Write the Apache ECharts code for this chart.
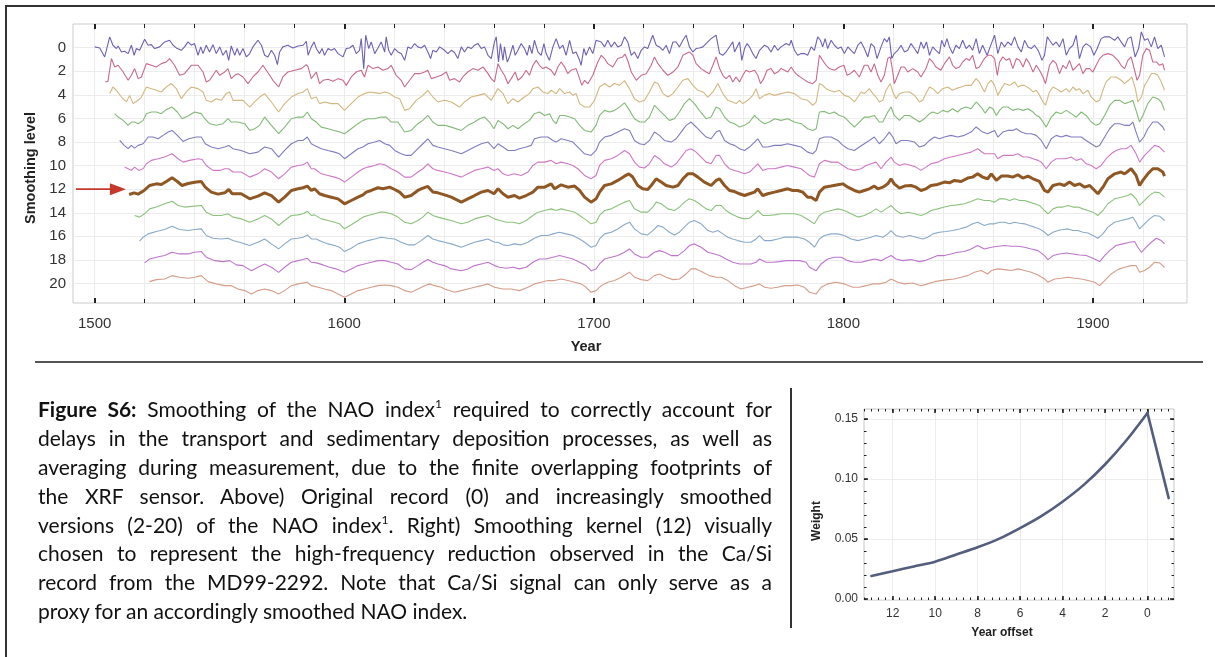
<!DOCTYPE html>
<html>
<head>
<meta charset="utf-8">
<script src="https://cdn.jsdelivr.net/npm/echarts@6/dist/echarts.min.js"></script>
<style>
  html, body { margin: 0; padding: 0; background: #fff; }
  #page { position: relative; width: 1215px; height: 657px; overflow: hidden; background: #fff; }
  #frame { position: absolute; left: 5px; top: 5px; width: 1300px; height: 800px; border: 2px solid #333; box-sizing: border-box; }
  #chart { position: absolute; left: 0; top: 0; width: 1215px; height: 657px; }
  #rule { position: absolute; left: 35px; top: 361px; width: 1168px; height: 0; border-top: 2px solid #555; }
  #vrule { position: absolute; left: 790px; top: 388px; width: 0; height: 240px; border-left: 2px solid #333; }
  #caption { position: absolute; left: 38px; top: 395px; width: 734px; color: #111;
             font-family: Lato, 'Open Sans', 'Liberation Sans', sans-serif;
             font-size: 21px; z-index: 2; }
  #caption div { height: 28.9px; line-height: 28.9px; text-align: justify; text-align-last: justify; white-space: nowrap; }
  #caption div.last { text-align-last: left; }
  #caption sup { font-size: 12px; line-height: 0; vertical-align: 9px; }
</style>
</head>
<body>
<div id="page">
  <div id="frame"></div>
  <div id="rule"></div>
  <div id="vrule"></div>
  <div id="chart"></div>
  <div id="caption">
    <div><b>Figure S6:</b> Smoothing of the NAO index<sup>1</sup> required to correctly account for</div>
    <div>delays in the transport and sedimentary deposition processes, as well as</div>
    <div>averaging during measurement, due to the finite overlapping footprints of</div>
    <div>the XRF sensor. Above) Original record (0) and increasingly smoothed</div>
    <div>versions (2-20) of the NAO index<sup>1</sup>. Right) Smoothing kernel (12) visually</div>
    <div>chosen to represent the high-frequency reduction observed in the Ca/Si</div>
    <div>record from the MD99-2292. Note that Ca/Si signal can only serve as a</div>
    <div class="last">proxy for an accordingly smoothed NAO index.</div>
  </div>
</div>
<script>
// Smoothing levels (row positions) and tick labels
const levels = [0, 2, 4, 6, 8, 10, 12, 14, 16, 18, 20];
const yearTicks = [1500, 1600, 1700, 1800, 1900];
const offsetTicks = [12, 10, 8, 6, 4, 2, 0];
const weightTicks = [0, 0.05, 0.10, 0.15];

// Smoothing kernel (level 12): weight per year offset
const kernelOffsets = [13, 12, 11, 10, 9, 8, 7, 6, 5, 4, 3, 2, 1, 0, -1];
const kernelWeights = [0.019, 0.023, 0.027, 0.031, 0.037, 0.043, 0.050, 0.059, 0.069, 0.081, 0.095, 0.112, 0.132, 0.155, 0.084];

// NAO anomaly per smoothing level: [year, anomaly] (positive = upward)
const lvl0 = [[1500,0.06],[1502,-0.03],[1504,-0.79],[1506,0.91],[1507.3,0.2],[1508.7,-0.08],[1509.4,0.14],[1510.7,-0.37],[1512,-0.31],[1513.4,-0.51],[1514.7,0.2],[1515.8,-0.65],[1516.7,-0.08],[1518,-0.23],[1520,0.71],[1521.4,0.2],[1522.7,0.25],[1524,-0.08],[1526,0.06],[1528,0.48],[1530,0.62],[1531.4,0.2],[1532.7,-0.03],[1534.7,-0.23],[1536,0.06],[1537.4,0.48],[1538.7,0.2],[1540,0.34],[1541.4,-0.65],[1542.5,0.06],[1543.4,-0.51],[1544.7,0.2],[1546,-0.37],[1547.4,0.25],[1548.7,-0.51],[1550.1,0.06],[1551.4,-0.65],[1552.7,-0.23],[1553.7,-1.08],[1554.7,0.14],[1556.1,-0.65],[1557.1,-0.08],[1558.1,-0.65],[1559.4,-0.08],[1560.8,-0.79],[1562.1,-0.51],[1563.4,0.06],[1565.4,0.62],[1566.8,0.2],[1568.1,-0.65],[1569.4,-0.79],[1570.8,-0.23],[1572.1,-0.65],[1573.2,-1.44],[1574.1,-0.37],[1575.4,0.06],[1577.4,0.2],[1579.4,-0.03],[1581.5,0.14],[1583.5,0.2],[1584.8,0.54],[1585.5,-0.65],[1586.8,0.06],[1587.9,0.48],[1588.8,-0.08],[1590.1,-0.51],[1591.1,-0.08],[1592.1,-0.65],[1593.5,-0.08],[1594.8,-0.23],[1596.1,-0.08],[1597.5,-0.51],[1599.5,-0.79],[1600.8,-0.08],[1602.1,-0.03],[1603.5,0.2],[1604.8,-0.51],[1606.1,-0.23],[1606.8,0.76],[1607.8,-1.78],[1608.6,1.05],[1609.8,-0.08],[1610.8,0.48],[1612.2,-0.51],[1613.5,-0.03],[1614.8,0.48],[1616.2,-0.37],[1616.8,0.91],[1617.8,-0.23],[1618.8,-0.65],[1620.2,-0.08],[1621.5,-0.37],[1622.8,-0.51],[1624.2,-1.08],[1625.5,0.06],[1626.8,-0.08],[1628.2,0.34],[1629.5,0.06],[1630.8,-0.03],[1632.2,0.2],[1633.5,-0.37],[1634.6,-0.93],[1635.5,-0.23],[1636.9,-0.37],[1638.2,0.06],[1640.2,-0.23],[1641.5,-0.51],[1642.9,-0.23],[1644.2,-0.42],[1645.5,-0.93],[1646.9,0.06],[1648.2,-0.37],[1649.5,0.06],[1650.9,-0.08],[1652.2,0.2],[1653.6,0.34],[1654.9,-0.08],[1656.2,0.06],[1657.6,-0.65],[1658.9,-0.93],[1660.2,0.48],[1660.9,0.91],[1661.8,-1.22],[1662.6,0.34],[1663.6,-1.08],[1664.2,0.06],[1665.3,-1.22],[1666.2,-0.79],[1667.6,0.2],[1668.5,-0.65],[1669.6,-0.23],[1670.9,0.34],[1672.2,-0.08],[1673.3,-0.65],[1674.2,0.2],[1675.2,-0.51],[1676.2,0.62],[1677.6,-0.37],[1678.9,-0.65],[1680,0.34],[1680.9,-0.51],[1682.2,-1.08],[1683.6,0.06],[1684.9,0.76],[1686.3,-0.08],[1687.6,0.2],[1688.9,-0.65],[1690.3,0.62],[1691.6,-0.51],[1692.9,-0.37],[1694.3,-1.08],[1694.9,-1.5],[1696,-0.08],[1696.9,-0.65],[1698.3,0.06],[1699.6,-0.51],[1700.9,0.62],[1703,0.48],[1704.3,0.06],[1705.6,0.62],[1707,0.06],[1708.3,0.48],[1709.6,0.06],[1711,0.2],[1712.3,0.91],[1713.6,0.48],[1715,-0.65],[1716.3,-0.37],[1717.6,-0.93],[1719,-0.23],[1720.3,0.06],[1721.6,-0.08],[1723.6,1.05],[1725,0.2],[1726.3,0.06],[1727.7,-0.23],[1729,0.2],[1730.3,-0.51],[1731.7,0.48],[1733,0.48],[1734.3,0.06],[1735.7,0.62],[1737,1.05],[1738.3,0.06],[1739.7,-0.37],[1741,-0.08],[1742.3,-0.03],[1743.7,0.06],[1745,0.34],[1747,0.76],[1749,1.05],[1750.4,-0.51],[1751.7,-0.65],[1753,-0.37],[1754.8,0.2],[1755.7,0.48],[1756.4,-0.37],[1757.4,0.06],[1758.4,0.48],[1759.3,-1.08],[1760.4,-0.08],[1761.4,0.34],[1762.4,0.06],[1763.7,-0.51],[1765,-0.93],[1766.4,-0.23],[1768.4,0.2],[1769.7,0.06],[1771,-0.37],[1772.4,0.2],[1773.7,-0.23],[1775,0.06],[1777.1,0.34],[1778.4,0.2],[1779.1,0.62],[1780.4,-0.23],[1781.7,-0.65],[1783.1,-0.51],[1784.4,-0.51],[1785.7,-0.65],[1787.1,0.06],[1788.4,-0.23],[1789.7,0.91],[1790.8,0.62],[1791.7,0.06],[1792.7,0.76],[1793.7,-0.08],[1795.1,0.62],[1796.4,0.2],[1797.8,-0.08],[1799.1,0.06],[1800.4,-0.51],[1801.8,0.06],[1803.1,-0.23],[1804.4,-0.51],[1805.8,0.2],[1807.1,0.48],[1808.4,-0.08],[1809.8,-0.79],[1811.1,0.34],[1812.4,0.06],[1813.5,-0.93],[1815.1,0.06],[1816.4,0.76],[1817.5,0.48],[1818.4,0.91],[1819.4,-0.93],[1820.4,-0.51],[1821.8,-0.23],[1823.1,0.2],[1824.5,-0.37],[1825.8,-0.23],[1827.1,0.34],[1828.5,-0.08],[1829.8,-0.51],[1831.1,0.48],[1832.2,-0.08],[1833.3,0.48],[1834.5,-0.65],[1835.8,0.06],[1837.1,-0.23],[1838.5,-0.51],[1839.4,0.62],[1840.5,0.06],[1841.5,0.76],[1842.5,0.06],[1843.8,-0.51],[1845.1,0.2],[1846.5,-0.08],[1847.8,0.62],[1849.2,-0.08],[1850.5,0.2],[1851.8,-0.23],[1853.2,0.76],[1854.5,-0.51],[1855.8,0.2],[1857.6,-0.65],[1859.3,0.34],[1860.6,1.05],[1861.9,-0.51],[1863.3,0.48],[1864.6,0.06],[1865.9,0.48],[1867.3,0.2],[1868.6,0.91],[1870,0.06],[1871.3,-0.37],[1872.6,0.62],[1874,0.06],[1875.3,-0.08],[1876.6,0.2],[1878,-0.23],[1878.6,-0.51],[1879.6,-1.08],[1880.6,-0.65],[1881.7,0.91],[1882.6,0.62],[1884,0.2],[1885.3,0.48],[1886.6,0.06],[1888,0.76],[1889.3,-0.65],[1890.6,-0.08],[1892,0.2],[1893.3,1.05],[1894.6,-0.93],[1896,0.06],[1897.3,0.34],[1899.1,0.06],[1900.4,-0.65],[1901.7,-0.08],[1903.3,0.76],[1904.7,0.91],[1906.7,0.91],[1908.7,0.62],[1910,0.91],[1911.3,0.48],[1912.7,0.06],[1914,0.76],[1915.3,0.91],[1916.9,-0.79],[1918.3,-0.08],[1919.4,1.33],[1920.7,0.62],[1922,0.76],[1923.4,0.06],[1924.7,0.91],[1926,-0.08],[1927.4,0.2],[1928.7,-0.79]];

const lvl2 = [[1504.3,-0.91],[1505.3,-0.86],[1506.7,1.07],[1508,0.36],[1509.4,0.5],[1511.4,-0.07],[1513.4,-0.77],[1514.7,-0.35],[1516,0.22],[1517.4,-0.63],[1518.7,-0.49],[1520.7,0.64],[1522.7,0.5],[1524.7,0.36],[1526.7,0.64],[1528.7,0.78],[1530,1.07],[1532,0.5],[1534,-0.35],[1536,-0.21],[1538.7,0.5],[1541.4,0.5],[1543.4,-0.07],[1544.7,-0.91],[1546,-0.77],[1547.4,-0.35],[1548.7,0.08],[1550.1,-0.35],[1552.1,-0.07],[1553.4,0.22],[1554.7,-0.63],[1556.1,-0.35],[1557.4,-0.21],[1559.4,-0.49],[1561.4,-1.06],[1563.4,-0.49],[1565.4,-0.07],[1567.4,0.5],[1570.1,-0.35],[1571.4,-0.77],[1573.7,-1.34],[1575.4,-0.49],[1577.4,-0.07],[1580.1,0.08],[1582.8,0.22],[1584.8,0.56],[1585.5,0.36],[1586.8,-0.63],[1588.8,-0.07],[1590.1,-1.06],[1591.5,-0.77],[1593.5,-0.69],[1595.5,-0.86],[1597.5,-0.63],[1599.5,-0.77],[1600.8,-1.2],[1602.8,-0.49],[1604.8,-0.07],[1606.8,0.08],[1608.1,-0.49],[1609.5,0.5],[1611.5,0.22],[1613.5,0.36],[1615.5,0.08],[1617.5,0.22],[1618.8,0.5],[1620.8,-0.35],[1622.8,-0.77],[1624.2,-1.34],[1626.2,-0.77],[1628.2,-0.21],[1630.2,-0.21],[1632.2,-0.07],[1633.5,0.08],[1634.9,-0.63],[1636.9,-0.49],[1638.9,-0.35],[1640.9,-0.07],[1642.2,-0.77],[1644.2,-0.63],[1646.2,-0.91],[1647.5,-0.49],[1649.5,-0.07],[1651.5,0.22],[1653.6,0.08],[1655.6,0.36],[1657.6,-0.21],[1658.9,-0.63],[1660.2,-0.91],[1661.6,0.64],[1662.9,0.08],[1664.2,-0.35],[1665.6,-1.06],[1666.9,-0.63],[1668.5,-0.07],[1669.6,-0.77],[1671.2,-0.49],[1672.9,0.08],[1674.2,-0.35],[1675.6,0.5],[1676.9,0.92],[1678.2,0.5],[1679.6,0.22],[1680.9,0.36],[1682.9,0.08],[1684.3,-0.35],[1685.6,0.36],[1686.9,0.78],[1688.3,0.36],[1689.6,-0.21],[1690.9,0.08],[1692.9,0.22],[1694.3,-0.63],[1695.2,-1.2],[1696.3,-0.77],[1697.6,-1.06],[1699.6,-0.35],[1701.6,0.78],[1703,1.35],[1704.3,1.07],[1705.6,0.64],[1707.6,0.36],[1709.6,1.07],[1711.6,1.21],[1712.5,1.45],[1713.8,0.78],[1715,-0.07],[1717,-0.77],[1719,-0.35],[1721,-0.21],[1723,0.5],[1724.3,1.21],[1725.7,0.64],[1727.7,0.08],[1729.7,-0.35],[1731.7,-0.07],[1733.7,0.36],[1735.7,1.35],[1737,1.49],[1738.3,1.63],[1739.7,1.35],[1741,0.64],[1743,0.22],[1745,-0.07],[1746.3,-0.21],[1747.7,0.5],[1749,1.21],[1750.4,0.22],[1751.7,-0.35],[1753,-0.63],[1754.4,-0.35],[1755.7,-0.91],[1757,-0.49],[1758.4,-0.91],[1759.7,-0.35],[1761,0.08],[1762.4,-0.07],[1764.4,0.08],[1765.7,-0.35],[1766.8,-1.06],[1768.1,-0.63],[1769.4,0.08],[1771,0.22],[1772.4,-0.21],[1773.7,-0.07],[1775,0.22],[1776.4,0.08],[1777.7,-0.07],[1779.1,0.36],[1780.4,-0.07],[1781.7,-0.35],[1783.7,-0.63],[1785.7,-0.91],[1787.7,-1.06],[1789.1,-0.77],[1790.4,1.35],[1791.7,0.92],[1793.1,0.5],[1794.4,0.22],[1796.4,0.08],[1798.4,0.36],[1800.2,0.5],[1801.5,-0.35],[1802.8,-0.21],[1804.4,0.08],[1806.4,-0.49],[1808.4,0.5],[1809.8,0.5],[1811.1,-0.07],[1812.4,0.64],[1813.8,-0.35],[1815.1,-0.91],[1816.4,-0.35],[1817.8,1.07],[1818.8,1.21],[1819.8,-0.07],[1820.4,-1.06],[1821.8,-0.35],[1823.1,0.36],[1824.5,0.36],[1825.8,-0.07],[1827.8,0.22],[1829.8,-0.07],[1831.1,-0.49],[1833.1,0.22],[1834.5,1.07],[1835.8,0.78],[1837.1,0.36],[1839.1,0.08],[1840.5,0.64],[1842.5,1.21],[1843.8,0.5],[1845.1,0.22],[1846.5,0.36],[1847.8,0.78],[1849.2,1.07],[1850.5,0.92],[1851.8,1.35],[1853.2,0.22],[1854.5,0.36],[1856.5,1.07],[1857.8,1.35],[1859.3,1.35],[1860.6,1.07],[1861.7,-0.35],[1862.6,0.78],[1863.9,1.21],[1865.3,0.92],[1866.6,1.07],[1867.9,0.22],[1869.3,1.07],[1870.6,0.92],[1872,0.36],[1873.3,1.07],[1874.6,0.64],[1876,-0.07],[1877.3,0.5],[1878.6,0.08],[1880,-0.49],[1881,-1.06],[1882.6,0.5],[1884,0.92],[1885.3,0.64],[1886.6,-0.21],[1888,0.5],[1889.3,0.22],[1890.6,0.92],[1892,0.08],[1893.3,0.36],[1894.6,0.64],[1896,-0.21],[1897.3,0.22],[1898.7,0.22],[1900,-0.07],[1901.3,0.5],[1902.7,1.07],[1904,1.35],[1906,1.49],[1908,1.35],[1910,0.92],[1911.3,0.5],[1912.7,0.22],[1914,0.92],[1915.3,1.21],[1916.7,0.08],[1917.7,-0.77],[1918.7,-0.35],[1920,1.35],[1921.4,1.92],[1922.7,1.77],[1924,0.78],[1925.4,0.78],[1926.7,0.5],[1928,0.64],[1928.7,0.08]];

const lvl4 = [[1506,0.1],[1507.3,0.66],[1508.7,0.38],[1510.7,-0.19],[1512.7,-0.61],[1514,-0.05],[1515.4,-0.75],[1517.4,-0.47],[1518.7,-0.19],[1520.7,0.66],[1522.7,0.52],[1524.7,0.38],[1526.7,0.24],[1528.7,0.66],[1530.7,0.95],[1532.7,0.52],[1534.7,-0.33],[1536.7,0.24],[1538.7,0.66],[1541.4,0.52],[1543.4,0.24],[1544.7,-0.47],[1546.7,-0.61],[1548.7,-0.33],[1550.7,-0.47],[1552.7,0.1],[1554.1,0.24],[1555.4,-0.47],[1557.4,-0.47],[1559.4,-0.47],[1562.1,-1.04],[1564.1,-0.61],[1566.1,-0.19],[1568.1,0.1],[1570.8,-0.61],[1573.7,-1.46],[1576.1,-0.75],[1578.8,-0.19],[1581.5,0.1],[1583.5,0.24],[1585.2,0.52],[1586.8,-0.33],[1588.8,-0.19],[1590.1,-0.75],[1592.1,-0.61],[1594.8,-0.75],[1597.5,-0.75],[1600.1,-1.32],[1602.8,-0.75],[1605.5,-0.19],[1608.1,0.1],[1610.2,0.24],[1612.2,0.18],[1614.2,0.1],[1616.2,0.24],[1618.2,0.1],[1620.2,-0.19],[1622.2,-0.33],[1624.2,-1.32],[1626.2,-1.18],[1628.8,-0.47],[1631.5,-0.05],[1633.5,0.38],[1635.5,-0.19],[1637.5,-0.61],[1640.2,-0.47],[1642.9,-0.61],[1646.2,-1.04],[1648.2,-0.61],[1650.9,-0.19],[1653.6,-0.05],[1656.2,0.1],[1658.9,-0.47],[1661.6,0.52],[1663.6,0.1],[1665.6,-0.75],[1667.6,-0.33],[1669.6,-0.61],[1672.2,-0.19],[1674.2,0.1],[1675.6,0.52],[1677.6,0.66],[1679.6,0.24],[1681.6,0.1],[1682.9,0.38],[1684.9,0.1],[1686.3,0.52],[1688.3,0.1],[1690.3,0.24],[1691.6,-0.05],[1692.9,0.1],[1694.3,-0.75],[1696.3,-1.04],[1698.3,-1.04],[1700.3,-0.47],[1702.3,0.66],[1704.3,0.95],[1706.3,0.66],[1708.3,0.95],[1710.3,0.8],[1712.3,1.2],[1714.3,0.52],[1716.3,-0.33],[1718.3,-0.61],[1720.3,-0.47],[1722.3,0.24],[1724.3,1.09],[1725.7,0.95],[1727.7,0.1],[1729.7,-0.19],[1731.7,0.1],[1733.7,0.66],[1735.7,1.23],[1737.7,1.37],[1739.7,0.8],[1741.7,0.38],[1743.7,0.24],[1745.7,-0.19],[1747.7,0.24],[1749.7,0.95],[1751.7,0.1],[1753.7,-0.47],[1755.7,-0.61],[1757,-0.75],[1758.4,-0.47],[1759.7,-0.75],[1761.7,-0.47],[1763.7,-0.05],[1765,0.52],[1766.4,-0.33],[1768.4,-0.05],[1770.4,0.1],[1772.4,-0.05],[1775,0.1],[1777.7,0.24],[1780.4,0.1],[1783.1,-0.33],[1785.7,-0.47],[1787.7,-0.89],[1789.1,-0.61],[1790.4,0.95],[1791.7,0.8],[1793.1,0.52],[1794.4,0.38],[1796.4,0.24],[1798.4,0.38],[1800.4,-0.05],[1802.4,-0.19],[1804.4,-0.61],[1805.8,-0.19],[1807.1,0.24],[1808.4,0.1],[1810.4,0.52],[1811.8,0.1],[1813.1,-0.19],[1814.4,-0.61],[1815.8,-0.47],[1817.1,0.38],[1818.8,0.95],[1819.8,0.24],[1821.1,-0.33],[1822.5,0.1],[1824.5,0.24],[1826.5,0.24],[1828.5,-0.05],[1830.5,-0.61],[1831.8,-0.47],[1833.1,0.1],[1834.5,0.66],[1835.8,0.52],[1837.8,0.1],[1839.8,0.52],[1841.8,0.66],[1843.8,0.38],[1845.1,0.52],[1847.2,0.66],[1849.2,0.8],[1851.2,0.8],[1853.2,1.37],[1854.5,1.09],[1855.8,0.52],[1856.6,0.24],[1857.9,0.95],[1859.3,1.23],[1860.6,0.8],[1861.9,-0.05],[1863.3,0.52],[1864.6,0.95],[1866.6,0.8],[1868.6,1.09],[1870,0.66],[1871.3,0.8],[1872.6,0.8],[1874.6,0.52],[1876,0.24],[1877.3,0.38],[1878.6,-0.05],[1880,-0.61],[1881,-0.89],[1882.6,0.24],[1884,0.66],[1885.3,0.52],[1887.3,0.24],[1889.3,0.52],[1890.6,0.24],[1892,0.66],[1893.3,0.38],[1894.6,0.52],[1896,0.1],[1898,0.38],[1899.3,-0.19],[1901.3,-0.61],[1902.7,-0.47],[1904,0.38],[1905.3,1.09],[1907.3,1.51],[1909.3,1.51],[1911.3,1.23],[1912.7,0.95],[1914.3,1.23],[1915.6,1.51],[1917,0.52],[1918,-0.61],[1919.4,-0.19],[1920.7,0.8],[1922,1.23],[1923.4,1.8],[1924.7,1.8],[1926,1.65],[1927.4,1.09],[1928.7,0.38]];

const lvl6 = [[1508,0.4],[1509.4,0.11],[1511.4,-0.17],[1513.4,-0.59],[1514.7,-0.31],[1516,-0.31],[1517.4,-0.45],[1519.4,-0.17],[1520.7,0.4],[1522.7,0.54],[1524.7,0.54],[1526.7,0.4],[1528.7,0.76],[1531,0.96],[1533.1,0.54],[1535,-0.03],[1537.4,0.2],[1540,0.54],[1542.7,0.4],[1544.1,-0.03],[1546,-0.45],[1548.7,-0.59],[1551.4,-0.45],[1553.4,-0.03],[1554.7,-0.31],[1557.4,-0.31],[1560.1,-0.45],[1562.1,-1.02],[1564.1,-0.88],[1566.1,-0.59],[1568.1,0.11],[1570.8,-0.59],[1573.7,-1.3],[1576.1,-0.74],[1578.8,-0.03],[1581.5,0.11],[1583.5,0.11],[1585.2,0.54],[1586.8,-0.03],[1588.8,-0.31],[1590.8,-0.74],[1593.5,-0.88],[1596.1,-1.02],[1598.1,-1.16],[1600.1,-1.3],[1602.8,-0.88],[1605.5,-0.45],[1607.5,-0.17],[1609.5,-0.03],[1612.2,-0.03],[1614.8,0.11],[1616.8,0.11],[1618.8,-0.31],[1621.5,-0.31],[1624.2,-1.16],[1626.8,-1.02],[1629.5,-0.45],[1631.5,-0.17],[1633.5,0.25],[1635.5,-0.31],[1637.5,-0.59],[1640.2,-0.59],[1642.9,-0.74],[1646.9,-1.02],[1649.5,-0.59],[1652.2,-0.31],[1654.2,-0.03],[1656.2,0.11],[1658.2,-0.31],[1660,-0.88],[1661.6,-0.17],[1663.6,-0.45],[1665.6,-0.88],[1667.6,-0.59],[1669.6,-0.88],[1672.2,-0.45],[1674.2,-0.17],[1676.2,0.4],[1678.2,0.54],[1680.3,0.25],[1682.3,0.4],[1683.6,-0.17],[1684.9,-0.45],[1686.3,0.25],[1688.3,0.25],[1690.3,0.11],[1692.3,-0.03],[1694.3,-0.59],[1696.3,-1.02],[1698.9,-1.16],[1700.9,-0.59],[1702.3,0.25],[1704.3,0.68],[1706.3,0.54],[1708.3,0.68],[1710.3,0.96],[1712.3,1.32],[1714.3,0.68],[1716.3,-0.03],[1718.3,-0.31],[1720.3,-0.31],[1722.3,0.11],[1724.3,1.1],[1726.3,0.68],[1728.3,0.25],[1730.3,-0.17],[1732.3,-0.03],[1734.3,0.54],[1736.3,1.25],[1738.3,1.67],[1740.3,1.25],[1742.3,0.68],[1745,-0.03],[1747,0.11],[1749,0.96],[1750.4,0.82],[1752.4,0.11],[1754.4,-0.31],[1756.4,-0.45],[1758.4,-0.74],[1760.4,-0.59],[1762.4,-0.31],[1764.4,0.25],[1766.4,-0.17],[1768.4,-0.45],[1770.4,-0.31],[1772.4,-0.03],[1775,-0.17],[1777.7,-0.03],[1780.4,-0.31],[1783.1,-0.45],[1785.7,-0.88],[1787.7,-1.02],[1789.1,-0.88],[1790.4,0.54],[1792.4,0.59],[1794.4,0.4],[1796.4,0.54],[1798.4,0.25],[1800.4,0.11],[1802.4,-0.31],[1804.4,-0.74],[1806.4,-0.31],[1808.4,0.11],[1810.4,0.11],[1812.4,0.25],[1814.4,-0.31],[1815.8,-0.31],[1817.8,0.54],[1819.1,0.96],[1820.4,0.25],[1822.5,-0.17],[1824.5,0.25],[1826.5,0.25],[1828.5,-0.03],[1830.5,-0.31],[1832.5,-0.03],[1834.5,0.4],[1835.8,0.54],[1837.8,0.4],[1839.8,0.68],[1841.8,0.54],[1843.8,0.82],[1845.8,0.54],[1847.2,0.82],[1849.2,0.96],[1851.2,0.82],[1853.2,1.39],[1855.2,0.96],[1856.8,0.45],[1858.6,0.96],[1859.9,0.82],[1861.3,0.25],[1862.6,0.68],[1863.9,0.96],[1865.9,0.96],[1867.9,0.68],[1870,0.82],[1872,0.68],[1874,0.82],[1876,0.54],[1877.3,0.25],[1878.6,0.11],[1880,-0.31],[1881.3,-0.74],[1883.3,0.11],[1885.3,0.54],[1887.3,0.4],[1889.3,0.68],[1891.3,0.4],[1893.3,0.11],[1895.3,0.54],[1897.3,0.25],[1899.3,-0.31],[1901.3,-0.59],[1902.7,-0.45],[1904.7,0.25],[1906.7,1.1],[1908.7,1.53],[1910.7,1.53],[1912.7,1.25],[1914.7,1.39],[1916,1.53],[1917.3,0.68],[1918.7,-0.31],[1920,0.25],[1922,1.25],[1924,1.81],[1926,1.67],[1927.4,1.39],[1928.7,0.68]];

const lvl8 = [[1510,0.13],[1511.8,-0.29],[1513.4,-0.57],[1514.7,-0.29],[1516,-0.52],[1517.4,-0.29],[1519.4,-0.15],[1521.4,0.42],[1523.4,0.42],[1525.4,0.27],[1527.4,0.56],[1529.4,0.84],[1531,0.98],[1533.1,0.56],[1535.4,0.05],[1537.7,0.27],[1540.7,0.42],[1542.7,0.42],[1544.3,-0.15],[1546.7,-0.43],[1549.4,-0.57],[1552.1,-0.43],[1553.7,-0.29],[1555.4,-0.57],[1558.7,-0.72],[1562.1,-1.0],[1565.4,-0.86],[1568.1,-0.43],[1570.8,-0.57],[1573.7,-1.28],[1576.1,-0.72],[1578.8,-0.15],[1581.5,0.13],[1583.5,0.13],[1585.2,0.42],[1586.8,-0.15],[1588.1,-0.29],[1590.8,-0.57],[1593.5,-0.72],[1596.1,-0.86],[1598.1,-1.0],[1600.1,-1.42],[1602.8,-1.0],[1605.5,-0.57],[1607.5,-0.43],[1609.5,-0.15],[1612.2,-0.01],[1614.2,0.13],[1616.2,-0.15],[1618.2,-0.29],[1620.2,-0.72],[1622.8,-1.0],[1624.8,-1.14],[1626.8,-1.14],[1629.5,-0.57],[1631.5,-0.15],[1633.5,0.27],[1635.5,-0.29],[1637.5,-0.43],[1640.2,-0.57],[1642.9,-0.72],[1646.9,-1.0],[1649.5,-0.72],[1652.2,-0.43],[1654.9,-0.15],[1657.6,-0.01],[1660,-0.57],[1661.6,-0.15],[1663.6,-0.43],[1665.6,-0.72],[1668.2,-0.72],[1670.2,-0.57],[1672.9,-0.43],[1674.9,-0.29],[1676.2,0.27],[1678.9,0.42],[1681.6,0.42],[1683.6,0.13],[1684.9,-0.01],[1686.9,0.27],[1689.6,0.13],[1691.6,-0.01],[1693.6,-0.43],[1696.3,-1.0],[1698.9,-1.14],[1700.9,-0.72],[1702.3,-0.01],[1704.3,0.42],[1707,0.56],[1709.6,0.84],[1712.3,1.12],[1714.3,0.98],[1716.3,0.13],[1718.3,-0.15],[1720.3,-0.23],[1722.3,0.13],[1724.3,0.84],[1726.3,0.56],[1728.3,0.13],[1731,-0.01],[1733,0.27],[1735,0.84],[1737,1.41],[1739,1.69],[1741,1.27],[1743,0.84],[1745,0.42],[1747,0.27],[1749,0.84],[1750.4,0.98],[1752.4,0.13],[1754.4,-0.15],[1756.4,-0.29],[1758.4,-0.57],[1760.4,-0.72],[1762.4,-0.43],[1764.4,-0.01],[1765.7,0.27],[1767.7,-0.43],[1769.7,-0.43],[1772.4,-0.29],[1775,-0.29],[1777.7,-0.15],[1780.4,-0.29],[1783.1,-0.43],[1785.7,-0.86],[1787.7,-1.0],[1789.1,-0.72],[1790.4,0.27],[1792.4,0.42],[1795.1,0.42],[1797.8,0.13],[1799.8,-0.29],[1801.8,-0.57],[1804.4,-0.72],[1806.4,-0.43],[1808.4,-0.15],[1810.4,0.13],[1812.4,0.42],[1814.4,-0.15],[1816.4,0.27],[1818.4,0.84],[1819.8,0.42],[1821.1,-0.15],[1823.1,0.13],[1825.8,0.13],[1828.5,-0.01],[1830.5,-0.43],[1832.5,-0.29],[1834.5,0.13],[1836.5,0.42],[1838.5,0.27],[1840.5,0.42],[1843.1,0.56],[1845.8,0.42],[1848.5,0.56],[1851.2,0.84],[1853.2,1.27],[1855.8,0.84],[1857.8,0.7],[1858.6,0.84],[1860.6,0.98],[1861.9,0.42],[1863.9,0.84],[1865.9,0.98],[1867.9,0.98],[1869.3,1.12],[1871.3,0.84],[1873.3,0.7],[1875.3,0.7],[1877.3,0.56],[1879.3,0.13],[1881.3,-0.57],[1883.3,0.27],[1885.3,0.56],[1887.3,0.42],[1889.3,0.56],[1891.3,0.42],[1893.3,0.42],[1895.3,0.42],[1897.3,0.13],[1899.3,-0.15],[1901.3,-0.43],[1902.7,-0.29],[1904.7,0.42],[1906.7,1.12],[1908.7,1.55],[1910.7,1.55],[1912.7,1.41],[1914.7,1.41],[1916,1.69],[1917.3,0.84],[1918.7,-0.01],[1920.4,0.42],[1922,1.12],[1924,1.69],[1926,1.69],[1928,1.27],[1928.7,0.98]];

const lvl10 = [[1512,-0.13],[1513.4,-0.27],[1514.7,-0.41],[1516,-0.13],[1517.6,-0.41],[1519.4,-0.27],[1520.7,0.15],[1522.7,0.44],[1525.4,0.58],[1528,0.72],[1531,1.0],[1533.4,0.58],[1535.4,0.29],[1538,0.44],[1541.4,0.58],[1543,0.52],[1544.7,0.01],[1547.4,-0.41],[1550.1,-0.41],[1552.1,-0.27],[1553.7,-0.27],[1555.4,-0.55],[1558.7,-0.55],[1562.1,-0.98],[1565.4,-0.7],[1568.1,-0.27],[1570.8,-0.55],[1573.7,-1.12],[1576.1,-0.7],[1578.8,-0.13],[1581.5,0.01],[1583.5,0.07],[1585.2,0.29],[1586.8,-0.27],[1588.1,-0.27],[1590.8,-0.7],[1593.5,-0.84],[1596.1,-0.98],[1598.1,-1.12],[1600.1,-1.4],[1602.8,-0.98],[1605.5,-0.55],[1607.5,-0.27],[1609.5,-0.13],[1612.2,0.01],[1614.2,0.15],[1616.2,0.07],[1618.8,-0.27],[1621.5,-0.55],[1624.2,-0.98],[1626.8,-0.98],[1629.5,-0.55],[1631.5,-0.27],[1633.5,0.15],[1635.5,-0.27],[1637.5,-0.41],[1640.2,-0.55],[1642.9,-0.7],[1646.9,-0.98],[1649.5,-0.7],[1652.2,-0.41],[1654.9,-0.27],[1657.6,-0.13],[1660,-0.41],[1661.6,-0.27],[1663.6,-0.7],[1665.6,-0.84],[1668.2,-0.7],[1670.9,-0.84],[1673.6,-0.55],[1675.6,0.01],[1677.6,0.29],[1680.3,0.29],[1682.9,0.44],[1684.9,0.15],[1686.9,0.29],[1689.6,0.15],[1691.6,0.01],[1693.6,-0.27],[1696.3,-0.84],[1698.9,-1.12],[1700.9,-0.84],[1702.3,0.01],[1704.3,0.44],[1707,0.58],[1709.6,0.86],[1712.3,1.28],[1714.3,1.0],[1716.3,0.29],[1718.3,-0.13],[1720.3,-0.21],[1722.3,0.15],[1724.3,0.86],[1726.3,0.58],[1728.3,0.15],[1731,-0.13],[1733,0.15],[1735,0.72],[1737,1.28],[1739,1.43],[1741,1.14],[1743,0.72],[1745,0.29],[1747,0.15],[1749,0.86],[1750.4,0.86],[1752.4,0.15],[1754.4,-0.27],[1756.4,-0.41],[1758.4,-0.55],[1760.4,-0.7],[1762.4,-0.55],[1764.4,-0.13],[1765.7,0.15],[1767.7,-0.41],[1769.7,-0.27],[1772.4,-0.27],[1775,-0.13],[1777.7,0.01],[1780.4,-0.13],[1783.1,-0.27],[1785,-0.6],[1786.4,-0.84],[1788.4,-0.98],[1790.4,0.15],[1792.4,0.44],[1795.1,0.29],[1797.8,0.29],[1799.8,0.01],[1801.8,-0.27],[1804.4,-0.41],[1807.1,-0.27],[1809.1,0.01],[1811.1,0.15],[1813.1,0.29],[1815.1,-0.27],[1817.1,0.29],[1819.1,0.72],[1820.4,0.29],[1822.5,0.01],[1824.5,0.15],[1827.1,0.01],[1829.1,-0.13],[1831.1,-0.41],[1833.1,-0.13],[1835.1,0.15],[1837.8,0.29],[1840.5,0.58],[1843.1,0.72],[1845.8,0.86],[1848.5,1.0],[1851.2,1.14],[1853.8,1.43],[1856.5,1.0],[1858.6,1.0],[1860.6,1.0],[1861.9,0.58],[1863.9,0.86],[1865.9,0.86],[1867.9,0.86],[1870,1.0],[1872,0.72],[1874,0.72],[1876,0.58],[1878,0.44],[1879.3,0.29],[1881.3,-0.27],[1883.3,0.29],[1885.3,0.58],[1887.3,0.58],[1889.3,0.58],[1891.3,0.72],[1893.3,0.44],[1895.3,0.58],[1897.3,0.15],[1899.3,0.01],[1901.3,-0.27],[1903.3,0.01],[1905.3,0.58],[1907.3,1.0],[1909.3,1.28],[1911.3,1.43],[1913.3,1.43],[1915.3,1.71],[1917.3,1.0],[1918.7,0.29],[1920.7,0.86],[1922.7,1.28],[1924.7,1.71],[1926.7,1.57],[1928.7,1.14]];

const lvl12 = [[1513.8,-0.45],[1515.8,-0.31],[1517.4,-0.42],[1519.8,-0.11],[1522,0.31],[1524.7,0.45],[1526.7,0.4],[1528.7,0.65],[1531,0.96],[1533.1,0.65],[1535,0.31],[1537.4,0.48],[1540.7,0.6],[1542.7,0.65],[1544.3,0.17],[1546.7,-0.25],[1549.4,-0.42],[1552.1,-0.31],[1553.7,-0.03],[1555.1,-0.39],[1558.7,-0.39],[1562.1,-0.82],[1565.4,-0.59],[1568.1,-0.31],[1570.8,-0.54],[1573.7,-1.1],[1576.1,-0.68],[1578.8,-0.11],[1581.5,0.03],[1583.5,0.12],[1585.2,0.26],[1586.8,-0.11],[1588.1,0.03],[1590.1,-0.39],[1592.1,-0.54],[1594.8,-0.68],[1597.5,-0.82],[1600.1,-1.24],[1602.8,-0.96],[1605.5,-0.68],[1607.5,-0.48],[1608.8,-0.25],[1610.8,-0.11],[1613.5,0.12],[1615.5,0.03],[1618.2,0.17],[1620.2,-0.03],[1622.2,-0.25],[1624.2,-0.68],[1626.8,-0.54],[1629.5,-0.11],[1631.5,0.09],[1633.5,0.23],[1635.5,-0.25],[1637.5,-0.31],[1640.2,-0.48],[1642.9,-0.68],[1646.9,-1.1],[1649.5,-0.82],[1652.2,-0.54],[1654.9,-0.25],[1657.6,-0.11],[1660,-0.39],[1661.6,0.03],[1663.6,-0.39],[1665.6,-0.68],[1668.2,-0.54],[1670.2,-0.76],[1672.9,-0.54],[1675.6,-0.25],[1677.6,0.17],[1680.3,0.17],[1682.9,0.45],[1684.3,0.03],[1686.9,0.37],[1689.6,0.17],[1692.3,0.26],[1694.3,-0.11],[1696.3,-0.68],[1698.9,-1.1],[1700.9,-0.82],[1702.3,-0.25],[1704.3,0.31],[1707,0.45],[1709.6,0.74],[1712.3,1.1],[1714,1.3],[1715.5,1.05],[1717.6,0.31],[1719.6,0.03],[1721.6,-0.03],[1723,0.31],[1725,0.88],[1727,0.6],[1729,0.31],[1731.7,0.17],[1733.7,0.31],[1735.7,0.88],[1737.7,1.3],[1739.7,1.3],[1741.7,1.02],[1744.3,0.6],[1747,0.31],[1749,0.74],[1750.4,0.88],[1752.4,0.31],[1754.4,-0.11],[1756.4,-0.2],[1758.4,-0.39],[1760.4,-0.54],[1762.4,-0.39],[1764.4,-0.25],[1765.7,0.03],[1767.7,-0.54],[1769.7,-0.39],[1772.4,-0.25],[1775,-0.11],[1777.7,0.03],[1779.7,-0.11],[1781.7,-0.11],[1783.7,-0.25],[1785.7,-0.68],[1787.1,-0.68],[1789.1,-0.96],[1790.4,-0.25],[1792.4,0.17],[1795.1,0.26],[1797.8,0.37],[1799.8,0.45],[1801.8,0.17],[1804.4,-0.11],[1806.4,-0.25],[1808.4,-0.11],[1810.4,0.03],[1812.4,0.26],[1813.8,0.03],[1815.8,0.17],[1817.8,0.45],[1819.1,0.88],[1820.4,0.45],[1822.5,0.09],[1824.5,0.26],[1827.1,0.31],[1829.1,0.17],[1831.1,-0.11],[1833.1,0.03],[1835.1,0.31],[1837.8,0.4],[1840.5,0.6],[1842.5,0.54],[1844.5,0.74],[1847.2,0.65],[1849.8,0.94],[1851.8,1.02],[1853.8,1.3],[1855.8,1.02],[1857.8,0.88],[1859.3,1.3],[1861.3,0.74],[1863.3,1.11],[1865.9,1.11],[1867.9,1.02],[1869.9,1.22],[1871.9,0.94],[1874,1.11],[1876,0.88],[1878.6,0.65],[1880.6,-0.11],[1882,-0.25],[1884,0.31],[1886.6,0.45],[1888.6,0.31],[1890.6,0.6],[1892.6,0.31],[1894.6,0.45],[1896.7,0.17],[1898.7,0.31],[1900.7,-0.11],[1902,-0.39],[1904,0.17],[1906,0.88],[1908.7,1.3],[1911.3,1.45],[1912.7,1.3],[1915.3,1.73],[1917.3,1.16],[1918.7,0.31],[1920,0.74],[1922,1.3],[1924,1.73],[1926,1.73],[1928,1.45],[1928.7,1.11]];

const lvl14 = [[1516,-0.23],[1518,-0.37],[1520,-0.09],[1522,0.33],[1524.7,0.48],[1528,0.76],[1531,0.98],[1533.4,0.62],[1536,0.48],[1540,0.56],[1542.7,0.62],[1544.7,0.05],[1547.4,-0.23],[1550.7,-0.23],[1553.4,-0.09],[1555.4,-0.37],[1558.7,-0.52],[1562.1,-0.8],[1565.4,-0.52],[1568.1,-0.23],[1570.8,-0.52],[1573.7,-1.08],[1576.1,-0.66],[1578.8,-0.23],[1581.5,-0.18],[1583.5,-0.09],[1585.2,0.11],[1586.8,-0.23],[1588.1,-0.18],[1590.8,-0.52],[1593.5,-0.66],[1596.1,-0.8],[1598.1,-0.94],[1600.1,-1.36],[1602.8,-1.02],[1605.5,-0.66],[1607.5,-0.37],[1609.5,-0.23],[1612.2,-0.09],[1614.2,0.05],[1616.2,0.05],[1618.8,-0.09],[1621.5,-0.37],[1624.2,-0.8],[1626.8,-0.94],[1629.5,-0.66],[1631.5,-0.37],[1633.5,0.05],[1635.5,-0.23],[1637.5,-0.37],[1640.2,-0.52],[1642.9,-0.66],[1646.9,-0.94],[1649.5,-0.8],[1652.2,-0.52],[1654.9,-0.37],[1657.6,-0.23],[1660.2,-0.52],[1662.2,-0.66],[1664.9,-0.8],[1667.6,-0.8],[1670.2,-0.94],[1672.9,-0.66],[1675.6,-0.23],[1677.6,0.05],[1680.3,0.19],[1682.9,0.33],[1684.9,0.19],[1686.9,0.33],[1689.6,0.19],[1692.3,0.05],[1694.3,-0.23],[1696.3,-0.52],[1698.9,-0.94],[1700.9,-0.8],[1702.3,-0.23],[1704.3,0.19],[1707,0.33],[1709.6,0.62],[1712.3,0.9],[1714.3,1.04],[1716.3,0.33],[1719,0.05],[1721.6,0.05],[1723.6,0.48],[1725,0.9],[1727,0.76],[1729.7,0.33],[1732.3,0.19],[1734.3,0.48],[1736.3,0.9],[1738.3,1.18],[1740.3,1.04],[1742.3,0.76],[1745,0.33],[1747,0.19],[1749,0.62],[1751,0.62],[1753,0.19],[1755,-0.09],[1757.7,-0.37],[1760.4,-0.52],[1762.4,-0.46],[1764.4,-0.09],[1765.7,0.19],[1767.7,-0.23],[1769.7,-0.23],[1772.4,-0.18],[1775,-0.09],[1777.7,-0.09],[1780.4,-0.09],[1783.1,-0.23],[1786.4,-0.66],[1788.4,-0.94],[1790.4,-0.23],[1792.4,0.05],[1795.1,0.19],[1797.8,0.33],[1800.4,0.19],[1803.1,-0.09],[1805.8,-0.37],[1808.4,-0.23],[1811.1,0.05],[1813.1,0.33],[1815.1,0.05],[1817.1,0.33],[1819.1,0.62],[1821.1,0.19],[1823.1,-0.09],[1825.8,0.05],[1828.5,-0.09],[1831.1,-0.23],[1833.1,-0.09],[1835.1,0.19],[1837.8,0.33],[1840.5,0.48],[1843.1,0.62],[1845.8,0.67],[1848.5,0.76],[1851.2,0.96],[1853.8,1.18],[1856.5,1.04],[1858.6,1.04],[1860.6,0.9],[1862.6,1.18],[1864.6,1.18],[1866.6,1.04],[1868.6,1.18],[1870.6,1.04],[1872.6,1.04],[1874.6,0.9],[1876.6,0.76],[1878.6,0.62],[1880.6,0.19],[1882,-0.09],[1884,0.33],[1886,0.48],[1888,0.48],[1890,0.62],[1892,0.48],[1894,0.48],[1896,0.33],[1898,0.19],[1900,0.05],[1902,-0.23],[1904,0.19],[1906,0.76],[1908.7,1.18],[1911.3,1.32],[1914,1.47],[1915.3,1.61],[1917.3,1.18],[1918.7,0.62],[1920.7,1.04],[1922.7,1.47],[1924.7,1.75],[1926.7,1.69],[1928.7,1.32]];

const lvl16 = [[1518,-0.41],[1519.4,-0.07],[1521.4,0.21],[1524.7,0.41],[1528,0.58],[1531,0.86],[1534,0.58],[1537.4,0.49],[1540,0.58],[1542.7,0.63],[1544.7,0.07],[1547.4,-0.16],[1550.7,-0.22],[1553.4,-0.16],[1555.4,-0.36],[1558.7,-0.55],[1562.1,-0.78],[1565.4,-0.5],[1568.1,-0.22],[1570.8,-0.64],[1573.7,-1.06],[1576.1,-0.64],[1578.8,-0.22],[1581.5,-0.16],[1583.5,-0.07],[1585.2,0.12],[1586.8,-0.22],[1588.8,-0.22],[1590.8,-0.44],[1593.5,-0.64],[1596.1,-0.78],[1598.1,-0.92],[1600.1,-1.29],[1602.8,-1.01],[1605.5,-0.64],[1607.5,-0.5],[1609.5,-0.36],[1612.2,-0.22],[1614.8,-0.07],[1617.5,-0.16],[1620.2,-0.22],[1622.8,-0.5],[1625.5,-0.72],[1628.2,-0.72],[1630.8,-0.36],[1633.5,0.07],[1635.5,-0.22],[1637.5,-0.36],[1640.2,-0.5],[1642.9,-0.64],[1646.9,-0.92],[1649.5,-0.72],[1652.2,-0.5],[1654.9,-0.36],[1657.6,-0.22],[1660.2,-0.5],[1661.6,-0.5],[1663.6,-0.72],[1665.6,-0.78],[1668.2,-0.64],[1670.9,-0.72],[1673.6,-0.5],[1676.2,-0.16],[1678.9,0.07],[1681.6,0.07],[1683.6,0.21],[1686.3,0.35],[1688.9,0.21],[1691.6,0.07],[1694.3,-0.22],[1696.3,-0.5],[1698.9,-0.92],[1700.9,-0.78],[1702.3,-0.22],[1704.3,0.21],[1707,0.35],[1709.6,0.63],[1712.3,1.0],[1714.3,1.2],[1716.3,0.63],[1719,0.21],[1721.6,0.12],[1723.6,0.49],[1725.7,0.92],[1727.7,0.78],[1730.3,0.35],[1732.3,0.12],[1734.3,0.35],[1736.3,0.78],[1738.3,1.2],[1740.3,1.34],[1743,1.06],[1745.7,0.49],[1747.7,0.35],[1749.7,0.49],[1751.7,0.21],[1753.7,-0.07],[1755.7,-0.22],[1757.7,-0.36],[1760.4,-0.5],[1763,-0.5],[1765,-0.22],[1766.4,0.07],[1768.4,-0.36],[1771,-0.36],[1773.7,-0.22],[1776.4,-0.07],[1779.1,-0.07],[1781.7,-0.07],[1784.4,-0.22],[1786.4,-0.5],[1788.4,-0.92],[1790.4,-0.22],[1792.4,0.07],[1795.1,0.21],[1797.8,0.21],[1800.4,0.07],[1803.1,-0.22],[1805.8,-0.36],[1808.4,-0.22],[1811.1,-0.07],[1813.1,0.07],[1815.8,-0.07],[1817.8,0.21],[1819.1,0.49],[1821.1,0.07],[1823.8,-0.07],[1826.5,0.07],[1829.1,-0.07],[1831.8,-0.22],[1833.8,-0.07],[1835.8,0.21],[1838.5,0.35],[1841.1,0.41],[1843.8,0.49],[1846.5,0.63],[1849.2,0.78],[1851.8,1.06],[1853.8,1.2],[1856.5,0.92],[1858.6,1.06],[1860.6,1.06],[1862.6,1.2],[1864.6,1.2],[1866.6,1.06],[1868.6,1.2],[1870.6,1.11],[1872.6,1.06],[1874.6,0.92],[1876.6,0.78],[1878.6,0.63],[1880.6,0.35],[1882,0.07],[1884,0.35],[1886,0.49],[1888,0.58],[1890,0.63],[1892,0.49],[1894,0.49],[1896,0.35],[1898,0.29],[1900,0.07],[1902,-0.16],[1904,0.21],[1906,0.78],[1908.7,1.2],[1911.3,1.34],[1914,1.48],[1916,1.62],[1917.3,1.2],[1918.7,0.63],[1920.7,1.06],[1922.7,1.48],[1924.7,1.77],[1926.7,1.71],[1928.7,1.34]];

const lvl18 = [[1520,-0.25],[1522,0.08],[1524.7,0.23],[1528,0.37],[1531,0.65],[1534,0.51],[1537.4,0.51],[1540,0.65],[1542.7,0.71],[1544.7,0.23],[1548.1,-0.06],[1551.4,-0.14],[1554.1,-0.06],[1556.7,-0.42],[1559.4,-0.48],[1562.8,-0.91],[1565.4,-0.62],[1568.1,-0.34],[1570.8,-0.62],[1573.7,-1.05],[1576.1,-0.62],[1578.8,-0.2],[1581.5,-0.06],[1583.5,0.03],[1585.2,0.14],[1586.8,-0.2],[1588.8,-0.25],[1591.5,-0.42],[1594.1,-0.62],[1596.8,-0.76],[1600.1,-1.05],[1602.8,-0.76],[1605.5,-0.48],[1608.1,-0.34],[1610.8,-0.2],[1613.5,-0.06],[1616.2,-0.06],[1618.8,-0.2],[1621.5,-0.34],[1624.2,-0.76],[1626.8,-0.82],[1629.5,-0.48],[1631.5,-0.2],[1633.5,0.03],[1635.5,-0.2],[1637.5,-0.34],[1640.2,-0.48],[1642.9,-0.76],[1646.9,-0.91],[1649.5,-0.76],[1652.2,-0.48],[1654.9,-0.34],[1657.6,-0.2],[1660.2,-0.48],[1662.2,-0.62],[1664.9,-0.71],[1667.6,-0.62],[1670.2,-0.76],[1672.9,-0.62],[1675.6,-0.2],[1678.2,0.08],[1680.9,0.08],[1683.6,0.23],[1686.3,0.37],[1688.9,0.23],[1691.6,0.08],[1694.3,-0.2],[1696.9,-0.48],[1698.9,-0.91],[1700.9,-0.76],[1702.3,-0.34],[1704.3,0.08],[1707,0.23],[1709.6,0.37],[1712.3,0.65],[1714.3,0.93],[1716.3,0.51],[1719,0.23],[1721.6,0.23],[1724.3,0.65],[1726.3,0.79],[1728.3,0.65],[1731,0.37],[1733.7,0.37],[1736.3,0.79],[1738.3,1.22],[1740.3,1.36],[1743,1.08],[1745.7,0.65],[1748.4,0.51],[1750.4,0.37],[1753,0.08],[1755.7,-0.2],[1758.4,-0.34],[1760.4,-0.34],[1763,-0.34],[1765,-0.2],[1766.4,0.08],[1769,-0.2],[1771.7,-0.2],[1774.4,-0.14],[1777.1,-0.06],[1779.7,-0.06],[1782.4,-0.06],[1785.1,-0.2],[1786.4,-0.62],[1789.1,-0.91],[1791.1,-0.34],[1793.7,0.08],[1796.4,0.23],[1799.1,0.23],[1801.8,-0.06],[1804.4,-0.2],[1807.1,-0.2],[1809.8,-0.06],[1812.4,0.08],[1815.1,-0.06],[1817.8,0.23],[1819.1,0.37],[1821.1,0.08],[1823.8,-0.06],[1827.1,0.03],[1830.5,-0.14],[1832.5,-0.06],[1835.1,0.14],[1837.8,0.37],[1840.5,0.37],[1843.1,0.51],[1845.8,0.65],[1848.5,0.71],[1851.2,0.93],[1853.8,1.22],[1856.5,0.93],[1859.3,1.08],[1861.9,1.16],[1864.6,1.22],[1867.3,1.16],[1870,1.16],[1872.6,1.08],[1875.3,0.93],[1878,0.79],[1880.6,0.37],[1882,0.03],[1884,0.37],[1886.6,0.51],[1889.3,0.59],[1892,0.51],[1894.6,0.42],[1897.3,0.37],[1900,0.14],[1902.7,-0.14],[1904.7,0.37],[1906.7,0.79],[1909.3,1.22],[1912,1.36],[1914.7,1.5],[1916.7,1.56],[1918,1.08],[1919.4,0.65],[1921.4,1.08],[1923.4,1.5],[1925.4,1.84],[1927.4,1.64],[1928.7,1.36]];

const lvl20 = [[1522,0.16],[1524.7,0.33],[1528,0.39],[1531,0.67],[1534,0.53],[1537.4,0.45],[1540,0.53],[1542.7,0.67],[1545.4,0.16],[1548.7,-0.03],[1552.1,-0.18],[1554.7,-0.18],[1557.4,-0.46],[1560.1,-0.6],[1562.8,-0.88],[1565.4,-0.6],[1568.1,-0.46],[1570.8,-0.6],[1573.7,-0.88],[1576.1,-0.6],[1578.8,-0.18],[1581.5,-0.03],[1585.2,0.11],[1586.8,-0.18],[1589.5,-0.32],[1592.1,-0.46],[1594.8,-0.6],[1597.5,-0.88],[1600.1,-1.17],[1602.8,-0.88],[1605.5,-0.6],[1608.1,-0.46],[1610.8,-0.32],[1613.5,-0.18],[1616.2,-0.12],[1618.8,-0.18],[1621.5,-0.32],[1624.2,-0.6],[1626.8,-0.74],[1629.5,-0.46],[1632.2,-0.18],[1634.2,-0.03],[1636.2,-0.18],[1638.9,-0.32],[1640.2,-0.46],[1644.2,-0.74],[1646.9,-0.6],[1649.5,-0.46],[1652.2,-0.32],[1654.9,-0.18],[1657.6,-0.03],[1660.2,-0.32],[1663.6,-0.46],[1666.9,-0.46],[1670.2,-0.6],[1673.6,-0.32],[1676.2,-0.03],[1678.9,0.11],[1681.6,0.25],[1684.3,0.25],[1686.9,0.39],[1689.6,0.25],[1692.3,0.11],[1694.9,-0.03],[1696.9,-0.32],[1698.9,-0.74],[1700.9,-0.6],[1703,-0.18],[1705.6,0.11],[1708.3,0.25],[1711,0.53],[1714.3,0.96],[1716.3,0.53],[1719,0.33],[1721.6,0.25],[1724.3,0.67],[1726.3,0.81],[1729,0.53],[1731.7,0.33],[1734.3,0.39],[1737,0.81],[1739,1.24],[1741,1.24],[1743.7,0.96],[1746.3,0.67],[1749,0.53],[1751,0.53],[1753.7,0.25],[1756.4,-0.18],[1759,-0.46],[1761.7,-0.32],[1764.4,-0.18],[1766.4,-0.03],[1768.4,-0.32],[1771,-0.4],[1773.7,-0.32],[1776.4,-0.18],[1779.1,-0.18],[1781.7,-0.12],[1784.4,-0.32],[1786.4,-0.74],[1789.1,-0.88],[1791.1,-0.32],[1793.7,-0.03],[1797.1,0.11],[1800.4,-0.03],[1803.8,-0.32],[1806.4,-0.32],[1809.1,-0.18],[1811.8,-0.03],[1814.4,-0.03],[1817.1,0.11],[1819.1,0.39],[1821.8,0.11],[1824.5,-0.03],[1827.8,0.05],[1831.1,-0.18],[1833.8,-0.03],[1836.5,0.16],[1839.1,0.25],[1841.8,0.33],[1844.5,0.39],[1847.2,0.53],[1849.8,0.67],[1852.5,0.96],[1855.2,1.1],[1857.8,0.81],[1859.3,1.1],[1861.9,1.24],[1864.6,1.18],[1867.3,1.1],[1870,1.24],[1872.6,1.1],[1875.3,0.96],[1878,0.73],[1880.6,0.39],[1882,0.11],[1884.6,0.39],[1887.3,0.45],[1890,0.53],[1892.6,0.45],[1895.3,0.39],[1898,0.25],[1900.7,0.11],[1902.7,-0.18],[1904.7,0.25],[1907.3,0.81],[1910,1.18],[1912.7,1.38],[1915.3,1.52],[1917.3,1.52],[1918.7,0.96],[1920.7,1.1],[1922.7,1.38],[1924.7,1.81],[1926.7,1.75],[1928.7,1.38]];

const anomalies = [lvl0, lvl2, lvl4, lvl6, lvl8, lvl10, lvl12, lvl14, lvl16, lvl18, lvl20];
const lineColors = ['#6f61b1', '#c8698f', '#d2b77f', '#82b977', '#7f7cc0', '#cf78c6',
                    '#8e5724', '#8cc27c', '#89a9c9', '#bd76cc', '#d59d8a'];

// Tick positions for the frame ticks
const years20 = [];
for (let y = 1500; y <= 1920; y += 20) years20.push(y);
const offsetMinor = [];
for (let i = -3; i <= 40; i++) offsetMinor.push(i / 3);
const weightMinor = [];
for (let i = 0; i <= 15; i++) weightMinor.push(i / 100);

const FONT = "'Liberation Sans', Arial, sans-serif";
const TICK = '#222';

const topRect = { left: 73, top: 24, right: 28, bottom: 354 };
const kerRect = { left: 864, top: 409, right: 41, bottom: 57 };

// An axis that only draws inward frame ticks
function frameAxis(gridIndex, position, min, max, ticks, len, width, inverse) {
  return {
    gridIndex, position, type: 'value', min, max, inverse: !!inverse,
    axisLine: { show: false, onZero: false },
    axisTick: { show: true, inside: true, length: len, customValues: ticks, lineStyle: { color: TICK, width } },
    axisLabel: { show: false },
    splitLine: { show: false }
  };
}

const X0 = 1491.3, X1 = 1937.7, Y0 = -2, Y1 = 21.65;
const KX0 = -1.25, KX1 = 13.35, KY0 = -0.001, KY1 = 0.1583;

const xAxis = [
  Object.assign(frameAxis(0, 'bottom', X0, X1, years20, 4, 1), {
    axisLabel: { show: true, customValues: yearTicks, fontSize: 15, color: '#333', fontFamily: FONT, margin: 13,
                 formatter: v => String(v) },
    splitLine: { show: true, lineStyle: { color: '#ececec', width: 1 } }
  }),
  frameAxis(0, 'top', X0, X1, years20, 4, 1),
  frameAxis(1, 'bottom', X0, X1, yearTicks, 5, 2),
  frameAxis(1, 'top', X0, X1, yearTicks, 5, 2),
  Object.assign(frameAxis(2, 'bottom', KX0, KX1, offsetMinor, 2.5, 1, true), {
    axisLabel: { show: true, customValues: offsetTicks, fontSize: 12, color: '#333', fontFamily: FONT, margin: 8 }
  }),
  frameAxis(2, 'top', KX0, KX1, offsetMinor, 2.5, 1, true),
  Object.assign(frameAxis(3, 'bottom', KX0, KX1, offsetTicks, 4, 1.6, true), {
    splitLine: { show: true, lineStyle: { color: '#ededed', width: 1 } }
  }),
  frameAxis(3, 'top', KX0, KX1, offsetTicks, 4, 1.6, true)
];

const yAxis = [
  {
    gridIndex: 0, type: 'value', inverse: true, min: Y0, max: Y1,
    axisLine: { show: false, onZero: false },
    axisTick: { show: false, customValues: levels },
    axisLabel: { show: true, customValues: levels, fontSize: 15, color: '#333', fontFamily: FONT, margin: 7 },
    splitLine: { show: true, lineStyle: { color: '#ececec', width: 1 } }
  },
  { gridIndex: 1, type: 'value', inverse: true, min: Y0, max: Y1, show: false, axisLine: { onZero: false } },
  Object.assign(frameAxis(2, 'left', KY0, KY1, weightMinor, 2.5, 1), {
    axisLabel: { show: true, customValues: weightTicks, fontSize: 12, color: '#333', fontFamily: FONT, margin: 6,
                 formatter: v => v.toFixed(2) }
  }),
  frameAxis(2, 'right', KY0, KY1, weightMinor, 2.5, 1),
  Object.assign(frameAxis(3, 'left', KY0, KY1, weightTicks, 4, 1.6), {
    splitLine: { show: true, lineStyle: { color: '#ededed', width: 1 } }
  }),
  frameAxis(3, 'right', KY0, KY1, weightTicks, 4, 1.6)
];

const series = levels.map((lv, i) => ({
  name: 'Smoothing ' + lv,
  type: 'line',
  xAxisIndex: 0, yAxisIndex: 0,
  showSymbol: false, silent: true, animation: false,
  z: lv === 12 ? 5 : 2,
  lineStyle: { color: lineColors[i], width: lv === 12 ? 3 : 1.1 },
  data: anomalies[i].map(([yr, a]) => [yr, lv - a])
}));

// Kernel: smooth rising part up to the peak at offset 0, straight drop to -1
const kernelPoints = kernelOffsets.map((o, i) => [o, kernelWeights[i]]);
const peakIndex = kernelOffsets.indexOf(0);
const kernelStyle = { color: '#535d7d', width: 2.6, cap: 'round', join: 'round' };
series.push({
  name: 'Kernel', type: 'line', xAxisIndex: 4, yAxisIndex: 2,
  showSymbol: false, silent: true, animation: false,
  smooth: 0.3, lineStyle: kernelStyle,
  data: kernelPoints.slice(0, peakIndex + 1)
});
series.push({
  name: 'Kernel tail', type: 'line', xAxisIndex: 4, yAxisIndex: 2,
  showSymbol: false, silent: true, animation: false,
  lineStyle: kernelStyle,
  data: kernelPoints.slice(peakIndex)
});

const chart = echarts.init(document.getElementById('chart'), null, { renderer: 'canvas' });
chart.setOption({
  animation: false,
  backgroundColor: 'transparent',
  grid: [
    Object.assign({ show: true, borderColor: '#cbcbcb', borderWidth: 1, backgroundColor: 'transparent' }, topRect),
    Object.assign({ show: false }, topRect),
    Object.assign({ show: true, borderColor: '#c6c6c6', borderWidth: 1, backgroundColor: 'transparent' }, kerRect),
    Object.assign({ show: false }, kerRect)
  ],
  xAxis, yAxis, series
});

// Axis titles and the arrow that marks the chosen smoothing level
const tip = chart.convertToPixel({ xAxisIndex: 0, yAxisIndex: 0 }, [1512.5, 12]);
const tail = chart.convertToPixel({ xAxisIndex: 0, yAxisIndex: 0 }, [1492.5, 12]);
const bold = (text, x, y, size, rot) => ({
  type: 'text', x, y, rotation: rot || 0, silent: true,
  style: { text, fill: '#222', fontSize: size, fontWeight: 'bold', fontFamily: FONT, align: 'center', verticalAlign: 'middle' }
});
chart.setOption({
  graphic: [
    bold('Smoothing level', 31, 168, 14.5, Math.PI / 2),
    bold('Year', 586, 347, 14.5),
    bold('Weight', 817, 521, 12, Math.PI / 2),
    bold('Year offset', 1002, 633, 12),
    { type: 'line', silent: true, shape: { x1: tail[0], y1: tail[1], x2: tip[0] - 13, y2: tip[1] },
      style: { stroke: '#c4392c', lineWidth: 1.6 } },
    { type: 'polygon', silent: true,
      shape: { points: [[tip[0], tip[1]], [tip[0] - 16, tip[1] - 6], [tip[0] - 16, tip[1] + 6]] },
      style: { fill: '#c4392c' } }
  ]
});
</script>
</body>
</html>
